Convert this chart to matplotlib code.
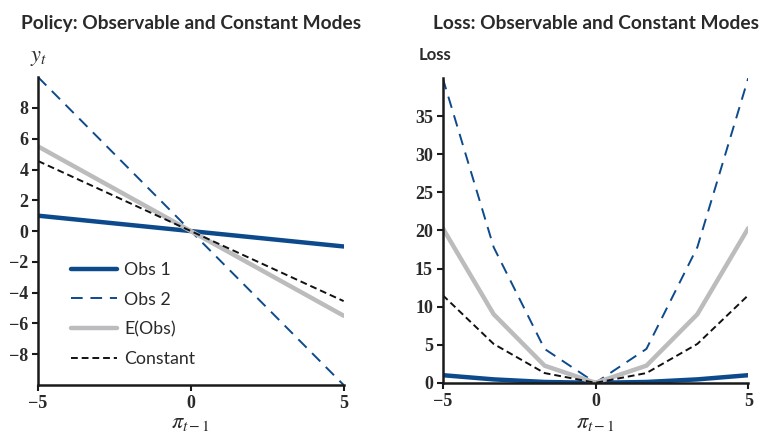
import matplotlib
matplotlib.use("Agg")
import matplotlib.pyplot as plt

plt.rcParams["mathtext.fontset"] = "stix"

# policy lines (left panel)
pi_policy = [-5, 5]
obs1_policy = [1.0, -1.0]
obs2_policy = [10.0, -10.0]
eobs_policy = [5.5, -5.5]
const_policy = [4.55, -4.55]

# loss curves (right panel)
pi_loss = [-5, -3.333, -1.667, 0, 1.667, 3.333, 5]
obs1_loss = [1.0, 0.45, 0.11, 0.0, 0.11, 0.45, 1.0]
obs2_loss = [40.0, 17.8, 4.45, 0.0, 4.45, 17.8, 40.0]
eobs_loss = [20.3, 9.0, 2.25, 0.0, 2.25, 9.0, 20.3]
const_loss = [11.5, 5.1, 1.28, 0.0, 1.28, 5.1, 11.5]

labels = ["Obs 1", "Obs 2", "E(Obs)", "Constant"]

navy = "#0d4a8c"
grey = "#bcbcbe"
txt = "#2a2a2a"

fig = plt.figure(figsize=(7.62, 4.36), dpi=100)
ax1 = fig.add_axes([0.050, 0.117, 0.401, 0.706])
ax2 = fig.add_axes([0.581, 0.122, 0.401, 0.699])

tickfont = dict(family="Liberation Serif", weight="bold", size=13)

def style(ax):
    for s in ["top", "right"]:
        ax.spines[s].set_visible(False)
    for s in ["left", "bottom"]:
        ax.spines[s].set_linewidth(1.8)
        ax.spines[s].set_color("#1a1a1a")
    ax.tick_params(direction="out", length=4, width=1.5, color="#1a1a1a", labelcolor=txt, pad=3)
    for lab in ax.get_xticklabels() + ax.get_yticklabels():
        lab.set_fontproperties(matplotlib.font_manager.FontProperties(**tickfont))

# left: policy
ax1.plot(pi_policy, obs1_policy, color=navy, lw=3.2, solid_capstyle="round", label=labels[0])
ax1.plot(pi_policy, obs2_policy, color=navy, lw=1.4, dashes=(6, 4), label=labels[1])
ax1.plot(pi_policy, eobs_policy, color=grey, lw=3.2, solid_capstyle="round", label=labels[2])
ax1.plot(pi_policy, const_policy, color="#111111", lw=1.4, dashes=(3.5, 2), label=labels[3])
ax1.set_xlim(-5, 5)
ax1.set_ylim(-10, 10)
ax1.set_xticks([-5, 0, 5])
ax1.set_xticklabels(["\u22125", "0", "5"])
ax1.set_yticks([-8, -6, -4, -2, 0, 2, 4, 6, 8])
ax1.set_yticklabels(["\u22128", "\u22126", "\u22124", "\u22122", "0", "2", "4", "6", "8"])
style(ax1)
leg = ax1.legend(loc="lower left", bbox_to_anchor=(0.055, 0.005), frameon=False,
                 handlelength=2.6, handletextpad=0.4, labelspacing=0.78,
                 prop=dict(family="Lato", size=12.8))
for t in leg.get_texts():
    t.set_color(txt)
ax1.set_title("Policy: Observable and Constant Modes", fontsize=13.8, family="Lato",
              weight="bold", color=txt, pad=35)
fig.text(0.050, 0.868, "$y_t$", fontsize=16, color=txt, ha="center", va="center")
fig.text(0.250, 0.030, r"$\pi_{t-1}$", fontsize=16, color=txt, ha="center", va="center")

# right: loss
ax2.plot(pi_loss, obs1_loss, color=navy, lw=3.2, solid_capstyle="round")
ax2.plot(pi_loss, obs2_loss, color=navy, lw=1.4, dashes=(6, 4))
ax2.plot(pi_loss, eobs_loss, color=grey, lw=3.2, solid_capstyle="round")
ax2.plot(pi_loss, const_loss, color="#111111", lw=1.4, dashes=(3.5, 2))
ax2.set_xlim(-5, 5)
ax2.set_ylim(0, 40)
ax2.set_xticks([-5, 0, 5])
ax2.set_xticklabels(["\u22125", "0", "5"])
ax2.set_yticks([0, 5, 10, 15, 20, 25, 30, 35])
style(ax2)
ax2.set_title("Loss: Observable and Constant Modes", fontsize=13.8, family="Lato",
              weight="bold", color=txt, pad=35)
fig.text(0.571, 0.874, "Loss", fontsize=12, family="Lato", weight="bold", color=txt,
         ha="center", va="center")
fig.text(0.781, 0.030, r"$\pi_{t-1}$", fontsize=16, color=txt, ha="center", va="center")

fig.savefig("out.png", dpi=100)
